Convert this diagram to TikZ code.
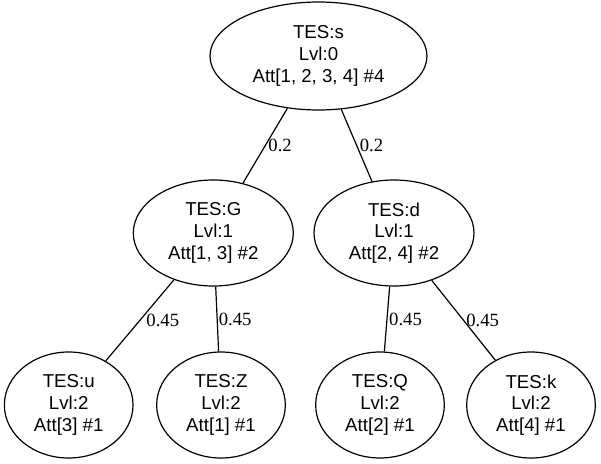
\documentclass[tikz,border=0pt]{standalone}
\usepackage{fontspec}
\setmainfont{Liberation Serif}
\newfontfamily\nodefont{Liberation Sans}
\usetikzlibrary{shapes.geometric}
\begin{document}
\begin{tikzpicture}[x=0.75pt,y=-0.75pt,
  tnode/.style={ellipse, draw, line width=0.9pt, inner sep=0pt, align=center,
    font=\nodefont\fontsize{14}{16.3}\selectfont},
  rootbox/.style={tnode, minimum width=162.75pt, minimum height=81pt},
  midbox/.style={tnode, minimum width=120pt, minimum height=79.5pt},
  leafbox/.style={tnode, minimum width=96.5pt, minimum height=79.5pt},
  elab/.style={font=\fontsize{14}{16}\selectfont, anchor=west, inner sep=0pt, pos=0.5},
  conn/.style={line width=0.9pt}]
\useasboundingbox (0,0) rectangle (601,464);
\node[rootbox] (s) at (318.5,56) {TES:s\\Lvl:0\\Att[1, 2, 3, 4] \#4};
\node[midbox] (G) at (213.3,233) {TES:G\\Lvl:1\\Att[1, 3] \#2};
\node[midbox] (d) at (394,233) {TES:d\\Lvl:1\\Att[2, 4] \#2};
\node[leafbox] (u) at (68.7,405) {TES:u\\Lvl:2\\Att[3] \#1};
\node[leafbox] (Z) at (221,405) {TES:Z\\Lvl:2\\Att[1] \#1};
\node[leafbox] (Q) at (380,405) {TES:Q\\Lvl:2\\Att[2] \#1};
\node[leafbox] (k) at (531,405) {TES:k\\Lvl:2\\Att[4] \#1};
\draw[conn] (s) -- node[elab, xshift=2pt] {0.2} (G);
\draw[conn] (s) -- node[elab, xshift=2pt] {0.2} (d);
\draw[conn] (G) -- node[elab, xshift=4.5pt] {0.45} (u);
\draw[conn] (G) -- node[elab, xshift=0.8pt] {0.45} (Z);
\draw[conn] (d) -- node[elab, xshift=1.2pt] {0.45} (Q);
\draw[conn] (d) -- node[elab, xshift=1.6pt] {0.45} (k);
\end{tikzpicture}
\end{document}
